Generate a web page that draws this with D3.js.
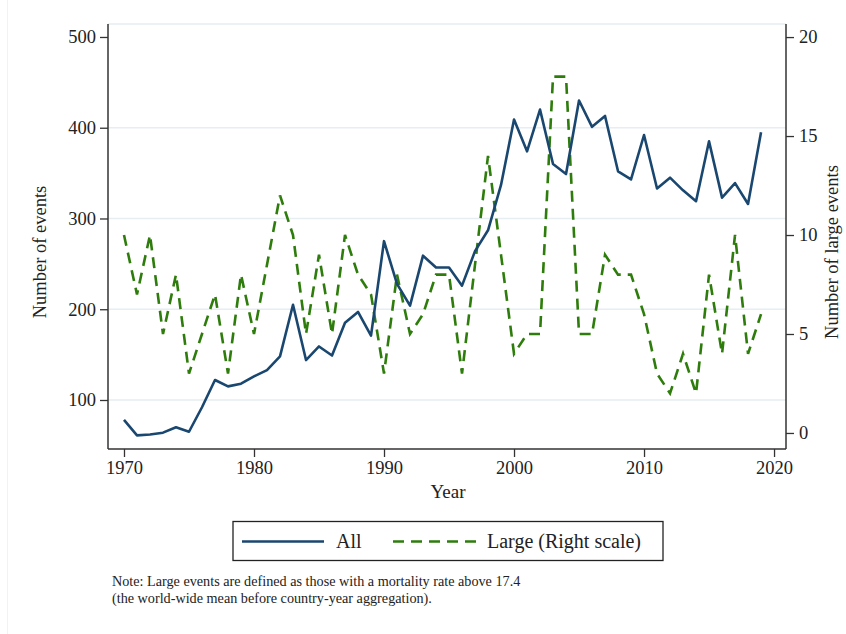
<!DOCTYPE html>
<html>
<head>
<meta charset="utf-8">
<script src="https://cdn.jsdelivr.net/npm/d3@7"></script>
<style>
  body { margin: 0; background: #fff; }
  text { font-family: "Liberation Serif", "DejaVu Serif", serif; fill: #222; }
</style>
</head>
<body>
<div id="chart"></div>
<script>
//-- Data --//
var years = [1970, 1971, 1972, 1973, 1974, 1975, 1976, 1977, 1978, 1979,
             1980, 1981, 1982, 1983, 1984, 1985, 1986, 1987, 1988, 1989,
             1990, 1991, 1992, 1993, 1994, 1995, 1996, 1997, 1998, 1999,
             2000, 2001, 2002, 2003, 2004, 2005, 2006, 2007, 2008, 2009,
             2010, 2011, 2012, 2013, 2014, 2015, 2016, 2017, 2018, 2019];
var allEvents = [78, 61, 62, 64, 70, 65, 92, 122, 115, 118,
                 126, 133, 148, 205, 144, 159, 149, 185, 197, 171,
                 275, 228, 204, 259, 246, 246, 226, 264, 287, 337,
                 409, 374, 420, 360, 349, 430, 401, 413, 352, 343,
                 392, 333, 345, 331, 319, 385, 323, 339, 316, 395];
var largeEvents = [10, 7, 10, 5, 8, 3, 5, 7, 3, 8,
                   5, 8.5, 12, 10, 5, 9, 5, 10, 8, 7,
                   3, 8, 5, 6, 8, 8, 3, 8.5, 14, 9,
                   4, 5, 5, 18, 18, 5, 5, 9, 8, 8,
                   6, 3, 2, 4, 2, 8, 4, 10, 4, 6];
var xTicks = [1970, 1980, 1990, 2000, 2010, 2020];
var leftTicks = [100, 200, 300, 400, 500];
var rightTicks = [0, 5, 10, 15, 20];
var legendLabels = ["All", "Large (Right scale)"];
var noteLines = ["Note: Large events are defined as those with a mortality rate above 17.4",
                 "(the world-wide mean before country-year aggregation)."];

//-- Setup --//
var W = 846, H = 634;
var plot = {left: 108, right: 786, top: 24, bottom: 449};
var navy = "#1a476f", green = "#2e7d0c", gridCol = "#e6eef1", axisCol = "#333";
var titleMid = 252;

var svg = d3.select("#chart").append("svg")
  .attr("width", W)
  .attr("height", H);

// faint outer frame on the left
svg.append("line")
  .attr("x1", 7.5).attr("x2", 7.5).attr("y1", 0).attr("y2", H)
  .style("stroke", "#eef3f5").style("stroke-width", 1);

//-- Scales --//
var xScale = d3.scaleLinear().domain([1968.77, 2020.92]).range([plot.left, plot.right]);
var yLeft = d3.scaleLinear().domain([46.0, 514.3]).range([plot.bottom, plot.top]);
var yRight = d3.scaleLinear().domain([-0.81, 20.66]).range([plot.bottom, plot.top]);

// grid lines (left scale) + top edge
svg.append("g").selectAll("line")
  .data(leftTicks.filter(function(d){ return d < 500; }))
  .enter().append("line")
  .attr("x1", plot.left).attr("x2", plot.right)
  .attr("y1", function(d){ return yLeft(d); })
  .attr("y2", function(d){ return yLeft(d); })
  .style("stroke", gridCol).style("stroke-width", 1.5);
svg.append("line")
  .attr("x1", plot.left).attr("x2", plot.right)
  .attr("y1", plot.top).attr("y2", plot.top)
  .style("stroke", gridCol).style("stroke-width", 1.5);

//-- Axes --//
var xAxis = d3.axisBottom(xScale).tickValues(xTicks).tickFormat(d3.format("d")).tickSizeOuter(0).tickSize(8).tickPadding(4),
    lAxis = d3.axisLeft(yLeft).tickValues(leftTicks).tickSizeOuter(0).tickSize(8).tickPadding(4),
    rAxis = d3.axisRight(yRight).tickValues(rightTicks).tickSizeOuter(0).tickSize(8).tickPadding(5);

function styleAxis(g) {
  g.select(".domain").style("stroke", axisCol).style("stroke-width", 1.5);
  g.selectAll(".tick line").style("stroke", axisCol).style("stroke-width", 1.3);
  g.selectAll(".tick text").style("font-family", "Liberation Serif, serif").style("font-size", "18.5px").style("fill", "#222");
}
var gx = svg.append("g").attr("transform", "translate(0," + plot.bottom + ")").call(xAxis);
styleAxis(gx);
gx.select(".domain").attr("d", "M" + plot.left + ",0H" + plot.right);
var gl = svg.append("g").attr("transform", "translate(" + plot.left + ",0)").call(lAxis);
styleAxis(gl);
gl.select(".domain").attr("d", "M0," + plot.top + "V" + plot.bottom);
var gr = svg.append("g").attr("transform", "translate(" + plot.right + ",0)").call(rAxis);
styleAxis(gr);
gr.select(".domain").attr("d", "M0," + plot.top + "V" + plot.bottom);

// axis titles
svg.append("text")
  .attr("x", (plot.left + plot.right) / 2 + 1).attr("y", 498)
  .attr("text-anchor", "middle").style("font-size", "19px")
  .text("Year");
svg.append("text")
  .attr("transform", "translate(46," + titleMid + ") rotate(-90)")
  .attr("text-anchor", "middle").style("font-size", "18.5px")
  .text("Number of events");
svg.append("text")
  .attr("transform", "translate(838," + titleMid + ") rotate(-90)")
  .attr("text-anchor", "middle").style("font-size", "18.5px")
  .text("Number of large events");

//-- Lines --//
var lineAll = d3.line()
  .x(function(d, i){ return xScale(years[i]); })
  .y(function(d){ return yLeft(d); });
var lineLarge = d3.line()
  .x(function(d, i){ return xScale(years[i]); })
  .y(function(d){ return yRight(d); });

svg.append("path")
  .datum(largeEvents)
  .attr("d", lineLarge)
  .style("fill", "none").style("stroke", green)
  .style("stroke-width", 2.6).style("stroke-dasharray", "11,7");
svg.append("path")
  .datum(allEvents)
  .attr("d", lineAll)
  .style("fill", "none").style("stroke", navy)
  .style("stroke-width", 2.6).style("stroke-linejoin", "round");

//-- Legend --//
var leg = svg.append("g");
leg.append("rect")
  .attr("x", 233).attr("y", 521.5).attr("width", 430).attr("height", 39)
  .style("fill", "#fff").style("stroke", "#222").style("stroke-width", 1.3);
leg.append("line")
  .attr("x1", 242).attr("x2", 324).attr("y1", 541.5).attr("y2", 541.5)
  .style("stroke", navy).style("stroke-width", 2.6);
leg.append("line")
  .attr("x1", 393).attr("x2", 476).attr("y1", 541.5).attr("y2", 541.5)
  .style("stroke", green).style("stroke-width", 2.6).style("stroke-dasharray", "11,7");
leg.selectAll("text.lab")
  .data(legendLabels)
  .enter().append("text")
  .attr("class", "lab")
  .attr("x", function(d, i){ return i == 0 ? 336 : 487; })
  .attr("y", 548)
  .style("font-size", "20px")
  .text(function(d){ return d; });

//-- Note --//
svg.selectAll("text.note")
  .data(noteLines)
  .enter().append("text")
  .attr("class", "note")
  .attr("x", 112)
  .attr("y", function(d, i){ return 586 + i * 17; })
  .style("font-size", "14.2px")
  .text(function(d){ return d; });
</script>
</body>
</html>
